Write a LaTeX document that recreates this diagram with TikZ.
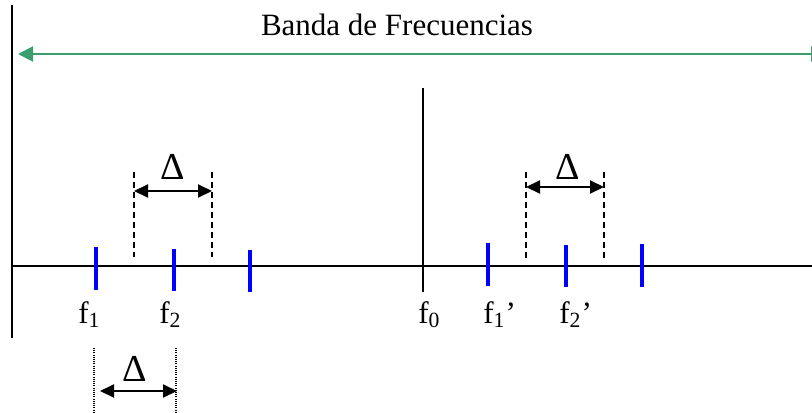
\documentclass[tikz,border=0pt]{standalone}
\usepackage{fontspec}
\setmainfont{Liberation Serif}
\usetikzlibrary{arrows.meta}
\definecolor{bandgreen}{RGB}{60,158,108}

\begin{document}
\begin{tikzpicture}[x=0.5pt,y=-0.5pt,
  font=\fontsize{15.5}{18}\selectfont,
  axis/.style={black, line width=0.75pt},
  tone/.style={blue, line width=2.4pt},
  guide/.style={black, line width=0.6pt, dash pattern=on 3pt off 2pt},
  dotguide/.style={black, line width=0.6pt, dash pattern=on 0.5pt off 0.6pt},
  span/.style={black, line width=1pt, {Triangle[length=7pt,width=6.5pt]}-{Triangle[length=7pt,width=6.5pt]}},
  lbl/.style={inner sep=0pt, anchor=base},
  delta/.style={lbl, font=\fontsize{19}{22}\selectfont}]
\clip (0,0) rectangle (812,412);

% axes
\coordinate (ytop) at (12,5);
\coordinate (ybot) at (12,338);
\coordinate (xleft) at (12,266);
\coordinate (xright) at (812,266);
\coordinate (ctop) at (423,88);
\coordinate (cbot) at (423,292);
\draw[axis] (ytop) -- (ybot);
\draw[axis] (xleft) -- (xright);
\draw[axis] (ctop) -- (cbot);

% frequency band
\coordinate (bandl) at (18,54);
\coordinate (bandr) at (826,54);
\draw[bandgreen, line width=1pt, {Triangle[length=7.5pt,width=7.5pt]}-{Triangle[length=7.5pt,width=7.5pt]}] (bandl) -- (bandr);
\node[lbl] (band) at (397,35) {Banda de Frecuencias};

% carriers
\foreach \x/\t/\b in {96/247/290, 174/249/291, 250/250/292, 488/243/286, 566/245/287, 642/244/287}
  \draw[tone] (\x,\t) -- (\x,\b);

% spacing, left group
\coordinate (la) at (134,172);
\coordinate (lb) at (134,257);
\coordinate (lc) at (212,172);
\coordinate (ld) at (212,257);
\draw[guide] (la) -- (lb);
\draw[guide] (lc) -- (ld);
\coordinate (lsl) at (134,191);
\coordinate (lsr) at (212,191);
\draw[span] (lsl) -- (lsr);
\node[delta] (dleft) at (173,179) {Δ};

% spacing, right group
\coordinate (ra) at (526,172);
\coordinate (rb) at (526,258);
\coordinate (rc) at (604,172);
\coordinate (rd) at (604,258);
\draw[guide] (ra) -- (rb);
\draw[guide] (rc) -- (rd);
\coordinate (rsl) at (526,187);
\coordinate (rsr) at (604,187);
\draw[span] (rsl) -- (rsr);
\node[delta] (dright) at (568,179) {Δ};

% spacing, below
\coordinate (ba) at (94,348);
\coordinate (bb) at (94,412);
\coordinate (bc) at (176,348);
\coordinate (bd) at (176,412);
\draw[dotguide] (ba) -- (bb);
\draw[dotguide] (bc) -- (bd);
\coordinate (bsl) at (100,391);
\coordinate (bsr) at (177,391);
\draw[span] (bsl) -- (bsr);
\node[delta] (dbelow) at (135,381) {Δ};

% labels
\node[lbl, anchor=base west] (f1) at (78,323) {f\textsubscript{1}};
\node[lbl, anchor=base west] (f2) at (159,323) {f\textsubscript{2}};
\node[lbl, anchor=base west] (f0) at (418,323) {f\textsubscript{0}};
\node[lbl, anchor=base west] (f1p) at (483,323) {f\textsubscript{1}’};
\node[lbl, anchor=base west] (f2p) at (559,323) {f\textsubscript{2}’};
\end{tikzpicture}
\end{document}
